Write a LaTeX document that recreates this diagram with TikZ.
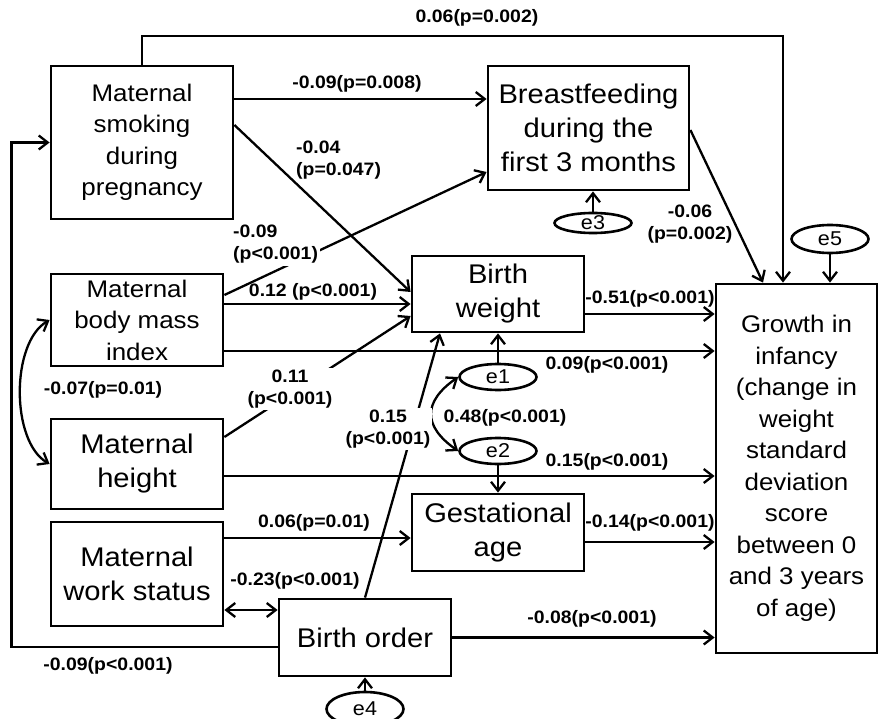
\documentclass[tikz,border=0pt]{standalone}
\usepackage{fontspec}
\setsansfont[FakeStretch=1.08]{Liberation Sans}
\usepackage{tikz}
\usetikzlibrary{arrows.meta,shapes.geometric}

\begin{document}
\begin{tikzpicture}[x=1pt,y=1pt,every node/.style={font=\sffamily,align=center},
  box/.style={draw,line width=2.8pt,inner sep=0pt,font=\sffamily\fontsize{24}{31.5}\selectfont},
  bigbox/.style={box,font=\sffamily\fontsize{27}{34}\selectfont},
  err/.style={draw,ellipse,line width=2.6pt,inner sep=0pt,minimum width=77pt,font=\sffamily\fontsize{20}{24}\selectfont},
  link/.style={line width=2.3pt,-{Straight Barb[length=9pt,width=14pt,line width=2.3pt]}},
  both/.style={line width=2.3pt,{Straight Barb[length=9pt,width=14pt,line width=2.3pt]}-{Straight Barb[length=9pt,width=14pt,line width=2.3pt]}},
  coef/.style={font=\sffamily\bfseries\fontsize{18}{22}\selectfont,inner sep=1pt},
  cut/.style={coef,fill=white,inner sep=2pt}]
\useasboundingbox (0,0) rectangle (878,-719);
\clip (0,0) rectangle (878,-719);

% variables
\node[box,minimum width=182pt,minimum height=153pt] (smoke) at (142,-142.5) {Maternal\\smoking\\during\\pregnancy};
\node[bigbox,minimum width=201pt,minimum height=124pt] (bf) at (588.5,-128) {Breastfeeding\\during the\\first 3 months};
\node[box,minimum width=172pt,minimum height=92pt] (bmi) at (137,-320) {Maternal\\body mass\\index};
\node[bigbox,minimum width=172pt,minimum height=90pt] (mh) at (137,-464) {Maternal\\height};
\node[bigbox,minimum width=172pt,minimum height=104pt] (work) at (137,-574) {Maternal\\work status};
\node[bigbox,minimum width=172pt,minimum height=76pt] (bw) at (498,-294) {Birth\\weight};
\node[bigbox,minimum width=172pt,minimum height=77pt] (ga) at (498,-532.5) {Gestational\\age};
\node[bigbox,minimum width=172pt,minimum height=77pt] (bo) at (365,-637.5) {Birth order};
\node[box,minimum width=161pt,minimum height=369pt] (growth) at (796.5,-468.5) {Growth in\\infancy\\(change in\\weight\\standard\\deviation\\score\\between 0\\and 3 years\\of age)};

% error terms
\node[err,minimum height=26pt] (e1) at (498,-377) {e1};
\node[err,minimum height=26pt] (e2) at (498,-451) {e2};
\node[err,minimum height=19pt] (e3) at (593,-223) {e3};
\node[err,minimum height=34pt] (e4) at (365,-709) {e4};
\node[err,minimum height=28pt] (e5) at (830,-239) {e5};

% paths
\draw[link] (smoke.north) -- (smoke.north |- 0,-36) -| ([xshift=-13.5pt]growth.north);
\draw[link] ([yshift=43.5pt]smoke.east) -- ([yshift=29pt]bf.west);
\draw[link] ([yshift=17.5pt]smoke.east) -- ([yshift=2pt]bw.west);
\draw[link] ([yshift=25pt]bmi.east) -- ([yshift=-44pt]bf.west);
\draw[link] ([yshift=16pt]bmi.east) -- ([yshift=-10pt]bw.west);
\draw[link] ([yshift=-31pt]bmi.east) -- ([yshift=117.5pt]growth.west);
\draw[link] ([yshift=27pt]mh.east) -- ([yshift=-22pt]bw.west);
\draw[link] ([yshift=-12pt]mh.east) -- ([yshift=-7.5pt]growth.west);
\draw[link] ([yshift=36pt]work.east) -- ([yshift=-5.5pt]ga.west);
\draw[both] ([yshift=-36pt]work.east) -- ([yshift=27.5pt]bo.west);
\draw[link] ([yshift=-9.5pt]bo.west) -| ([xshift=-38pt]smoke.west) -- (smoke.west);
\draw[link] (bo.north) -- ([xshift=-58pt]bw.south);
\draw[link] (bo.east) -- (bo.east -| growth.west);
\draw[link] ([yshift=-2pt]bf.east) -- ([xshift=-33.5pt]growth.north);
\draw[link] ([yshift=-20pt]bw.east) -- ([yshift=154.5pt]growth.west);
\draw[link] ([yshift=-9.5pt]ga.east) -- ([yshift=-73.5pt]growth.west);
\draw[link] (e1.north) -- (e1.north |- bw.south);
\draw[link] (e2.south) -- (e2.south |- ga.north);
\draw[link] (e3.north) -- (e3.north |- bf.south);
\draw[link] (e4.north) -- (e4.north |- bo.south);
\draw[link] (e5.south) -- (e5.south |- growth.north);
\draw[both] (e1.west) to[out=215,in=145,looseness=1.5] (e2.west);
\draw[both] (bmi.west) to[out=210,in=150,looseness=0.8] (mh.west);

% coefficients
\node[coef] (c1) at (477,-18) {0.06(p=0.002)};
\node[coef] (c2) at (357,-84) {-0.09(p=0.008)};
\node[coef,align=left,anchor=west] (c3) at (295,-160) {-0.04\\(p=0.047)};
\node[cut,align=left,anchor=west] (c4) at (231,-244.5) {-0.09\\(p<0.001)};
\node[coef] (c5) at (313,-292) {0.12 (p<0.001)};
\node[coef] (c6) at (607,-365) {0.09(p<0.001)};
\node[coef] (c7) at (103,-390) {-0.07(p=0.01)};
\node[cut] (c8) at (290,-389) {0.11\\(p<0.001)};
\node[cut] (c9) at (388,-429) {0.15\\(p<0.001)};
\node[coef] (c10) at (505,-418) {0.48(p<0.001)};
\node[coef] (c11) at (607,-462) {0.15(p<0.001)};
\node[coef] (c12) at (650,-299) {-0.51(p<0.001)};
\node[coef] (c13) at (650,-523) {-0.14(p<0.001)};
\node[coef] (c14) at (314,-523) {0.06(p=0.01)};
\node[coef] (c15) at (295,-581) {-0.23(p<0.001)};
\node[coef] (c16) at (592,-619) {-0.08(p<0.001)};
\node[coef] (c17) at (108,-666) {-0.09(p<0.001)};
\node[coef] (c18) at (690,-224) {-0.06\\(p=0.002)};
\end{tikzpicture}
\end{document}
